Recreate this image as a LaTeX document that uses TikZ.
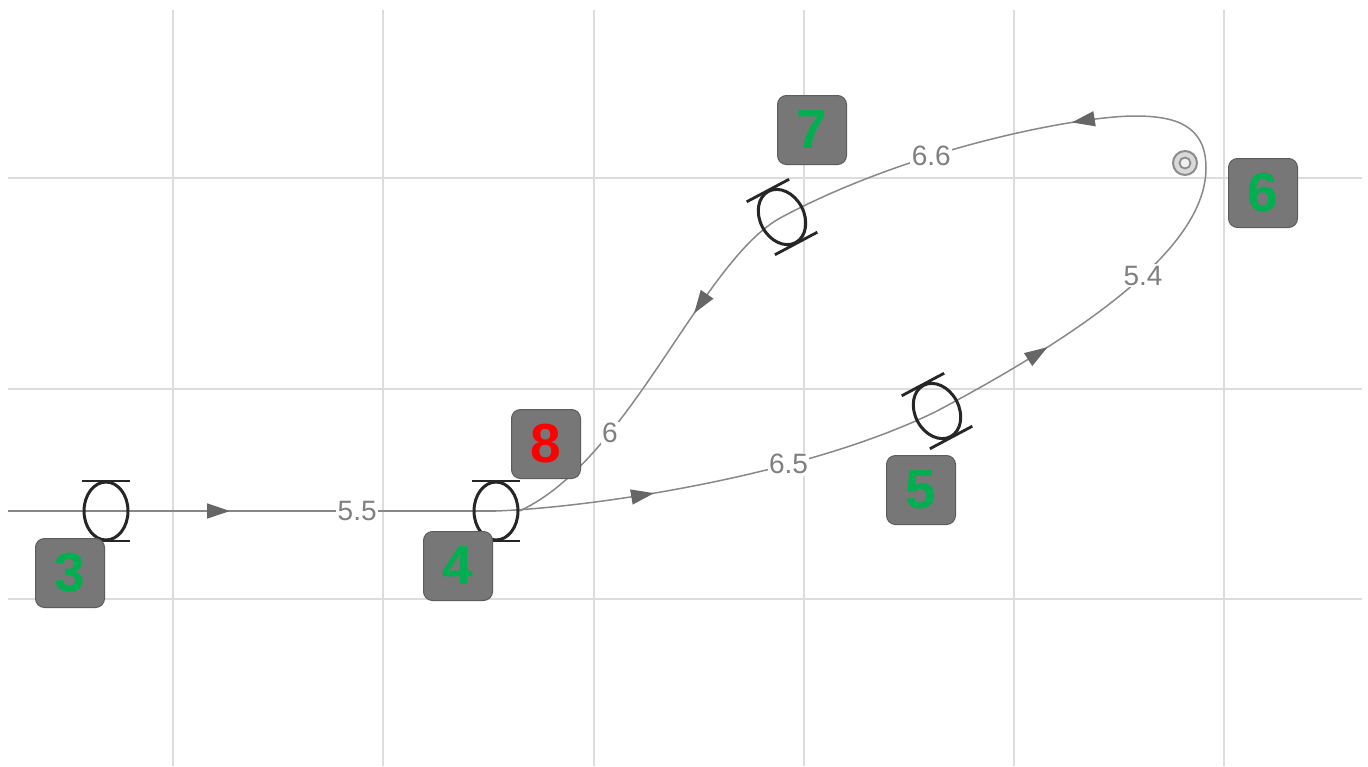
\documentclass[tikz,border=0pt]{standalone}
\usepackage{fontspec}
\setmainfont{Liberation Sans}
\usetikzlibrary{shapes.geometric,arrows.meta,decorations.markings,backgrounds}

\definecolor{gridgray}{HTML}{DCDCDC}
\definecolor{edgegray}{HTML}{888888}
\definecolor{tipgray}{HTML}{666666}
\definecolor{labgray}{HTML}{7F7F7F}
\definecolor{boxgray}{HTML}{777777}
\definecolor{boxedge}{HTML}{5C5C5C}
\definecolor{idgreen}{HTML}{00B050}
\definecolor{idred}{HTML}{FF0000}

\tikzset{
  gridline/.style={gridgray, line width=1.5pt},
  track/.style={edgegray, line width=1.5pt},
  flowtip/.style={decoration={markings,
      mark=at position #1 with {\arrow{Triangle[length=23pt,width=15pt,color=tipgray]}}},
    postaction={decorate}},
  weight/.style={fill=white, text=labgray, inner sep=1.5pt, font=\fontsize{28}{28}\selectfont},
  switchring/.style={ellipse, draw=black!85, line width=3pt, minimum width=44pt,
    minimum height=58pt, inner sep=0pt},
  bar/.style={black!85, line width=2.8pt},
  tag/.style={rectangle, rounded corners=9pt, fill=boxgray, draw=boxedge, line width=1pt,
    minimum size=69pt, inner sep=0pt, text=idgreen, font=\fontsize{55}{55}\selectfont\bfseries},
  stopring/.style={circle, draw=gray!90, line width=2pt, inner sep=0pt},
}

\begin{document}
\begin{tikzpicture}[x=1pt, y=-1pt]
    \useasboundingbox (0,0) rectangle (1368,766);

    % Switch rings
    \node[switchring] (j3) at (106,511) {};
    \node[switchring] (j4) at (496,511) {};
    \node[switchring, rotate=28] (j5) at (937,411) {};
    \node[switchring, rotate=28] (j7) at (782,217) {};
    \coordinate (in3) at (8,511);
    \coordinate (c6) at (1206,168);
    \coordinate (top6) at (1135,116);

    % Ring bars
    \foreach \j/\a in {j3/0, j4/0, j5/28, j7/28}
        \draw[bar, shift={(\j.center)}, rotate=\a] (-24,-30) -- (24,-30) (-24,30) -- (24,30);

    % Grid and track
    \begin{scope}[on background layer]
        \fill[white] (0,0) rectangle (1368,766);
        \foreach \gx in {173,383,594,804,1014,1224}
            \draw[gridline] (\gx,10) -- (\gx,766);
        \foreach \gy in {178,389,599}
            \draw[gridline] (8,\gy) -- (1362,\gy);

        \draw[track] (in3) -- (j3.center);
        \draw[track, flowtip=0.318] (j3.center) -- node[pos=0.644, weight] {5.5} (j4.center);
        \draw[track, flowtip=0.35] (j4.center) .. controls (600,507) and (810,474)
            .. node[pos=0.665, weight] {6.5} (j5.center);
        \draw[track, flowtip=0.34] (j5.center) .. controls (1113.6,317.2) and (1206,238)
            .. node[pos=0.52, weight] {5.4} (c6);
        \draw[track, flowtip=0.35] (c6) .. controls (1206,125) and (1175,116) .. (top6)
            .. controls (1080,116) and (914.5,146.6) .. node[pos=0.64, weight] {6.6} (j7.center);
        \draw[track, flowtip=0.33] (j7.center) .. controls (702,259) and (630,460)
            .. node[pos=0.7, weight] {6} (j4.east);
    \end{scope}

    % Section tags
    \node[tag] (n3) at (70,573) {3};
    \node[tag] (n4) at (458,566) {4};
    \node[tag, text=idred] (n8) at (546,444) {8};
    \node[tag] (n7) at (812,130) {7};
    \node[tag] (n6) at (1263,193) {6};
    \node[tag] (n5) at (921,490) {5};

    % Stop marker
    \node[stopring, fill=gray!30, minimum size=24pt] (t6) at (1185,163) {};
    \node[stopring, fill=gray!12, minimum size=11pt, line width=1.8pt] (t6in) at (t6) {};
\end{tikzpicture}
\end{document}
